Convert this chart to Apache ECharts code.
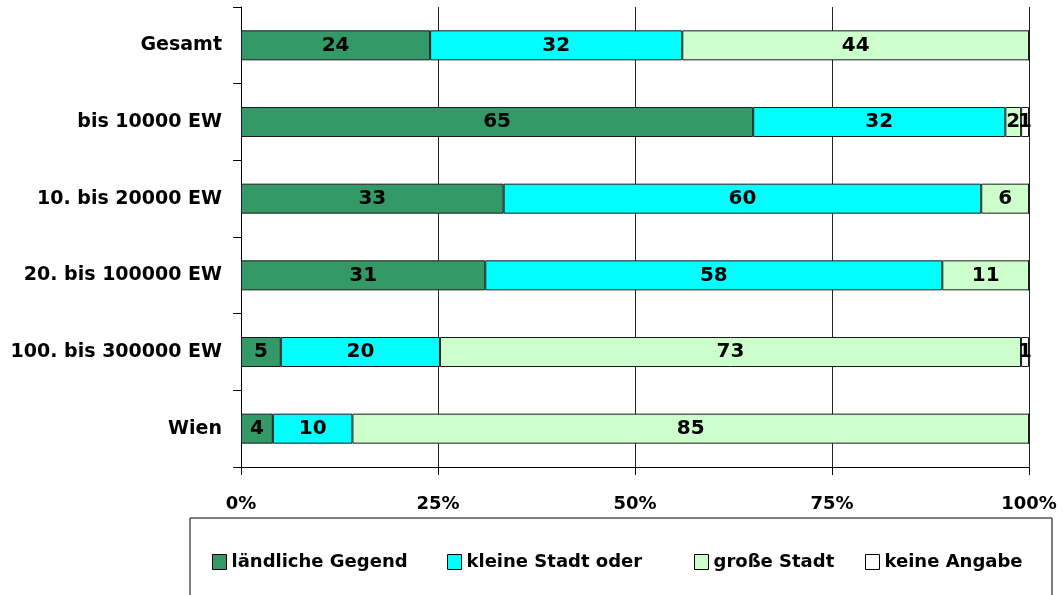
<!DOCTYPE html>
<html>
<head>
<meta charset="utf-8">
<script src="https://cdn.jsdelivr.net/npm/echarts@6/dist/echarts.min.js"></script>
<style>
  html, body { margin: 0; padding: 0; background: #fff; }
  #chart { width: 1063px; height: 595px; }
</style>
</head>
<body>
<div id="chart"></div>
<script>
// Kategorien (von oben nach unten)
var categories = ['Gesamt', 'bis 10000 EW', '10. bis 20000 EW', '20. bis 100000 EW', '100. bis 300000 EW', 'Wien']
// Werte je Antwort (Prozent, wie beschriftet)
var laendlich = [24, 65, 33, 31, 5, 4]
var kleineStadt = [32, 32, 60, 58, 20, 10]
var grosseStadt = [44, 2, 6, 11, 73, 85]
var keineAngabe = [0, 1, 0, 0, 1, 0]
var xTicks = [0, 25, 50, 75, 100]

var seriesNames = ['ländliche Gegend', 'kleine Stadt oder', 'große Stadt', 'keine Angabe']
var seriesColors = ['#339966', '#00ffff', '#ccffcc', '#ffffff']
var allValues = [laendlich, kleineStadt, grosseStadt, keineAngabe]

var font = 'DejaVu Sans'

// Summe je Zeile, damit die Balken auf 100% gestreckt werden (gestapelt in Prozent)
var totals = categories.map(function (c, i) {
  return allValues.reduce(function (s, arr) { return s + arr[i] }, 0)
})

var series = allValues.map(function (arr, k) {
  return {
    name: seriesNames[k],
    type: 'bar',
    stack: 'all',
    barWidth: 30,
    itemStyle: { color: seriesColors[k], borderColor: '#1a1a1a', borderWidth: 1 },
    label: {
      show: true,
      position: 'inside',
      color: '#000',
      fontFamily: font,
      fontWeight: 'bold',
      fontSize: 20,
      formatter: function (p) { return p.data.raw ? String(p.data.raw) : '' }
    },
    data: arr.map(function (v, i) {
      return { value: v / totals[i] * 100, raw: v }
    })
  }
})

// Legende: ein Eintrag je Block, damit die Abstaende wie im Original sind
var legendLeft = [212, 447, 694, 865]
var legends = seriesNames.map(function (name, k) {
  return {
    left: legendLeft[k],
    top: 553,
    padding: 0,
    itemWidth: 14,
    itemHeight: 15,
    icon: 'rect',
    itemStyle: { borderColor: '#000', borderWidth: 1 },
    textStyle: { color: '#000', fontFamily: font, fontWeight: 'bold', fontSize: 18 },
    data: [name]
  }
})

var myChart = echarts.init(document.getElementById('chart'))
var option = {
  animation: false,
  grid: { left: 241, right: 34, top: 7, bottom: 128 },
  xAxis: {
    type: 'value',
    min: xTicks[0],
    max: xTicks[xTicks.length - 1],
    interval: 25,
    axisLine: { show: true, lineStyle: { color: '#000' } },
    axisTick: { show: true, length: 8, lineStyle: { color: '#000' } },
    splitLine: { show: true, lineStyle: { color: '#222', width: 1 } },
    axisLabel: {
      formatter: '{value}%',
      color: '#000',
      fontFamily: font,
      fontWeight: 'bold',
      fontSize: 18,
      margin: 28
    }
  },
  yAxis: {
    type: 'category',
    inverse: true,
    data: categories,
    axisLine: { show: true, lineStyle: { color: '#000' } },
    axisTick: { show: true, length: 8, lineStyle: { color: '#000' } },
    axisLabel: {
      color: '#000',
      fontFamily: font,
      fontWeight: 'bold',
      fontSize: 19,
      margin: 19
    }
  },
  legend: legends,
  graphic: [{
    type: 'rect',
    shape: { x: 190, y: 518, width: 862, height: 100 },
    style: { fill: 'none', stroke: '#000', lineWidth: 1 },
    z: -1
  }],
  series: series
}
myChart.setOption(option)
</script>
</body>
</html>
